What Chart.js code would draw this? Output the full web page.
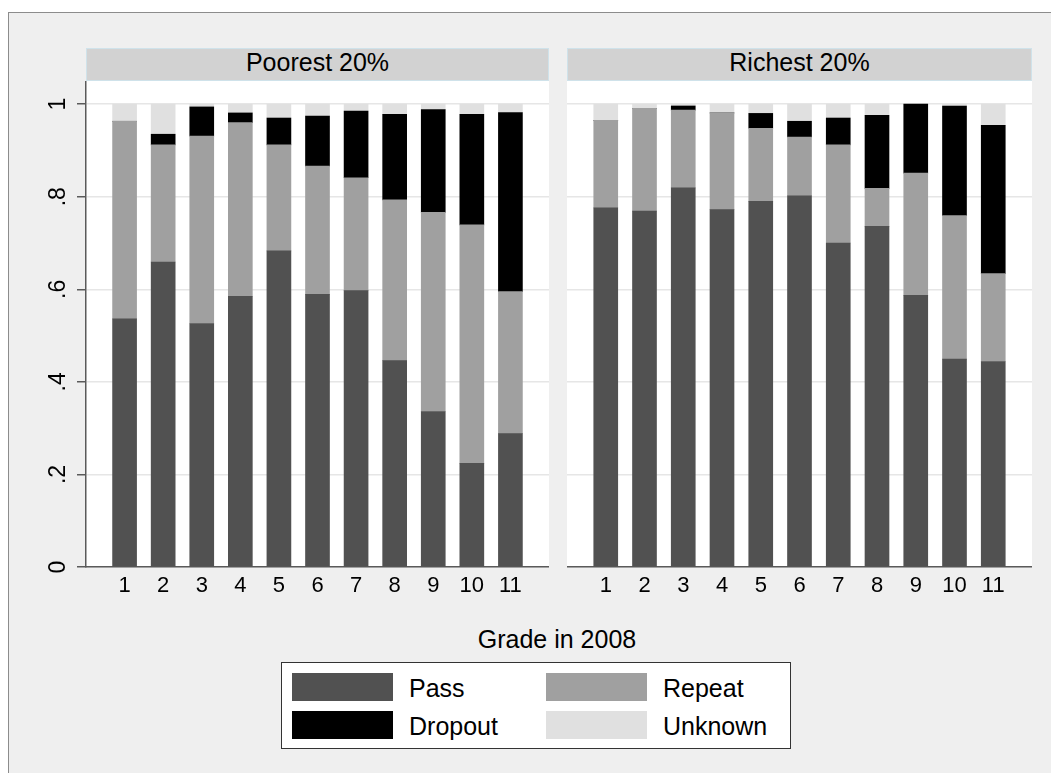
<!DOCTYPE html>
<html>
<head>
<meta charset="utf-8">
<title>Grade in 2008</title>
<script src="https://cdn.jsdelivr.net/npm/chart.js@4.4.1/dist/chart.umd.min.js"></script>
<style>
  html, body { margin: 0; width: 1051px; height: 773px; overflow: hidden; background: #fff; }
  body { font-family: "Liberation Sans", Arial, sans-serif; color: #000; position: relative; }
  #frame { position: absolute; left: 8px; top: 12px; width: 1100px; height: 820px; background: #efefef; border: 1px solid #8c8c8c; }
  .head { position: absolute; top: 48px; height: 33px; box-sizing: border-box; background: #d2d2d2; border: 1px solid #cfe2ea;
          font-size: 25px; line-height: 27px; text-align: center; }
  .wrap { position: absolute; top: 81px; height: 530px; }
  #xtitle { position: absolute; left: 457px; width: 200px; top: 624px; font-size: 25px; line-height: 30px; text-align: center; }
  #legend { position: absolute; left: 281px; top: 662px; width: 510px; height: 87px; box-sizing: border-box; background: #fff; border: 1.5px solid #333; }
  .sw { position: absolute; width: 101px; height: 28px; }
  .lab { position: absolute; font-size: 25px; line-height: 28px; white-space: nowrap; }
</style>
</head>
<body>
<div id="frame"></div>
<div class="head" style="left:86px;width:463px;">Poorest 20%</div>
<div class="head" style="left:567px;width:465px;">Richest 20%</div>
<div class="wrap" style="left:30px;width:519px;"><canvas id="poorChart"></canvas></div>
<div class="wrap" style="left:567px;width:465px;"><canvas id="richChart"></canvas></div>
<div id="xtitle">Grade in 2008</div>
<div id="legend"></div>

<script>
// grade categories and tick labels
const grades = [1, 2, 3, 4, 5, 6, 7, 8, 9, 10, 11]
const xTickLabels = ['1', '2', '3', '4', '5', '6', '7', '8', '9', '10', '11']
const yTickValues = [0, 0.2, 0.4, 0.6, 0.8, 1]
const yTickLabels = ['0', '.2', '.4', '.6', '.8', '1']

const seriesNames = ['Pass', 'Repeat', 'Dropout', 'Unknown']
const seriesColors = ['#515151', '#a0a0a0', '#000000', '#e0e0e0']

// Poorest 20% (shares)
const poorPass    = [0.536, 0.659, 0.526, 0.585, 0.683, 0.589, 0.597, 0.446, 0.336, 0.224, 0.288]
const poorRepeat  = [0.427, 0.253, 0.405, 0.375, 0.229, 0.277, 0.244, 0.347, 0.430, 0.515, 0.307]
const poorDropout = [0.000, 0.023, 0.063, 0.021, 0.058, 0.108, 0.144, 0.185, 0.222, 0.239, 0.387]
const poorUnknown = [0.037, 0.065, 0.006, 0.019, 0.030, 0.026, 0.015, 0.022, 0.012, 0.022, 0.018]

// Richest 20%
const richPass    = [0.776, 0.769, 0.819, 0.772, 0.790, 0.802, 0.700, 0.736, 0.587, 0.449, 0.444]
const richRepeat  = [0.189, 0.222, 0.168, 0.209, 0.158, 0.127, 0.212, 0.082, 0.264, 0.310, 0.190]
const richDropout = [0.000, 0.000, 0.009, 0.000, 0.032, 0.034, 0.058, 0.158, 0.149, 0.237, 0.320]
const richUnknown = [0.035, 0.009, 0.004, 0.019, 0.020, 0.037, 0.030, 0.024, 0.000, 0.004, 0.046]

const fontFam = '"Liberation Sans", Arial, sans-serif'

// white plot region behind the bars
const plotBg = {
  id: 'plotBg',
  beforeDraw (chart) {
    const a = chart.chartArea
    const ctx = chart.ctx
    ctx.save()
    ctx.fillStyle = '#ffffff'
    ctx.fillRect(a.left, a.top, a.right - a.left, a.bottom - a.top)
    ctx.restore()
  }
}

function noPad (s) {
  s.paddingTop = 0
  s.paddingBottom = 0
  s.paddingLeft = 0
  s.paddingRight = 0
}

function panel (id, series, showY) {
  const datasets = series.map((vals, k) => ({
    label: seriesNames[k],
    data: vals.map((v, i) => ({ x: grades[i], y: v })),
    backgroundColor: seriesColors[k],
    borderWidth: 0,
    barThickness: 24
  }))

  const ctx = document.getElementById(id).getContext('2d')
  return new Chart(ctx, {
    type: 'bar',
    data: { datasets: datasets },
    plugins: [plotBg],
    options: {
      responsive: true,
      maintainAspectRatio: false,
      animation: false,
      layout: { padding: 0, autoPadding: false },
      plugins: { legend: { display: false }, tooltip: { enabled: false } },
      scales: {
        x: {
          type: 'linear',
          stacked: true,
          offset: false,
          min: 0,
          max: 12,
          afterBuildTicks: s => { s.ticks = grades.map(g => ({ value: g })) },
          afterFit: s => { s.height = 44; noPad(s) },
          grid: { display: false, drawTicks: false },
          border: { display: true, color: '#5a5a5a', width: 1.5 },
          ticks: {
            autoSkip: false,
            maxRotation: 0,
            padding: 6,
            color: '#000',
            font: { family: fontFam, size: 22 },
            callback: (v, i) => xTickLabels[i]
          }
        },
        y: {
          stacked: true,
          min: 0,
          max: 1.05,
          afterBuildTicks: s => { s.ticks = yTickValues.map(v => ({ value: v })) },
          afterFit: s => { s.width = showY ? 56 : 0; noPad(s) },
          grid: {
            color: '#e6e6e6',
            lineWidth: 1.5,
            drawTicks: showY,
            tickLength: 9,
            tickColor: '#5a5a5a',
            tickWidth: 1.5
          },
          border: { display: showY, color: '#5a5a5a', width: 1.5 },
          ticks: {
            display: showY,
            minRotation: 90,
            maxRotation: 90,
            crossAlign: 'center',
            padding: 9,
            color: '#000',
            font: { family: fontFam, size: 23 },
            callback: (v, i) => yTickLabels[i]
          }
        }
      }
    }
  })
}

panel('poorChart', [poorPass, poorRepeat, poorDropout, poorUnknown], true)
panel('richChart', [richPass, richRepeat, richDropout, richUnknown], false)

// legend, two columns: Pass / Repeat on top row, Dropout / Unknown below
function legend () {
  const box = document.getElementById('legend')
  const colX = [10, 264]
  const rowY = [10, 48]
  seriesNames.forEach((name, k) => {
    const cx = colX[k % 2]
    const cy = rowY[Math.floor(k / 2)]
    const sw = document.createElement('div')
    sw.className = 'sw'
    sw.style.left = cx + 'px'
    sw.style.top = cy + 'px'
    sw.style.background = seriesColors[k]
    const lab = document.createElement('div')
    lab.className = 'lab'
    lab.style.left = (cx + 117) + 'px'
    lab.style.top = (cy + 1) + 'px'
    lab.textContent = name
    box.appendChild(sw)
    box.appendChild(lab)
  })
}
legend()
</script>
</body>
</html>
